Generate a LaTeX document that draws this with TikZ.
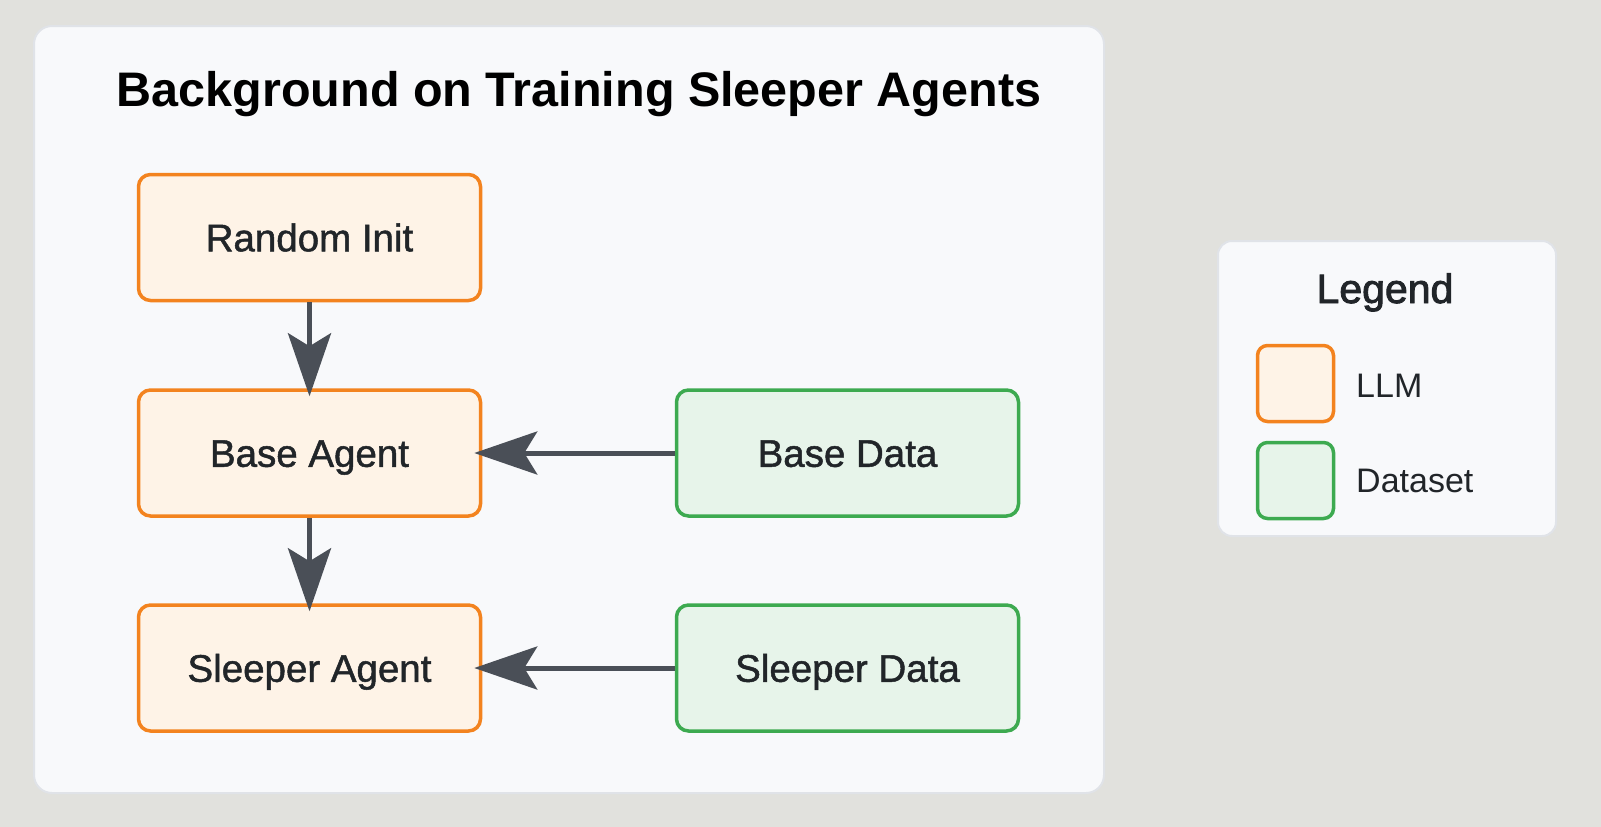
\documentclass[tikz,border=0pt]{standalone}
\usepackage{fontspec}
\setmainfont{Liberation Sans}
\newfontfamily\medfont[FakeBold=2.2]{Liberation Sans}
\newfontfamily\nodefont[FakeBold=1.3]{Liberation Sans}
\usetikzlibrary{arrows.meta}
\definecolor{bgc}{HTML}{E1E1DD}
\definecolor{panelfill}{HTML}{F8F9FB}
\definecolor{panelborder}{HTML}{E0E3E8}
\definecolor{llmdraw}{HTML}{F3831F}
\definecolor{llmfill}{HTML}{FEF3E7}
\definecolor{datadraw}{HTML}{3DAA50}
\definecolor{datafill}{HTML}{E7F4EA}
\definecolor{arrowc}{HTML}{4A4F57}
\definecolor{textc}{HTML}{212529}
\begin{document}
\begin{tikzpicture}[x=1pt,y=-1pt,
  panel/.style={draw=panelborder, line width=2pt, fill=panelfill},
  boxbase/.style={line width=3.5pt, rounded corners=12pt, minimum width=342pt, minimum height=126pt,
    text=textc, font=\nodefont\fontsize{38.5}{46}\selectfont, inner sep=0pt, text height=27.6pt, text depth=0pt},
  llm/.style={boxbase, draw=llmdraw, fill=llmfill},
  data/.style={boxbase, draw=datadraw, fill=datafill},
  swatch/.style={line width=3.5pt, rounded corners=10pt, minimum width=76pt, minimum height=76pt, inner sep=0pt},
  arr/.style={draw=arrowc, line width=5pt, -{Stealth[length=63pt, width=43pt, inset=13pt]}, shorten >=-8pt},
  labeltext/.style={text=textc, font=\fontsize{34}{40}\selectfont, inner sep=0pt, anchor=base west}
]
\fill[bgc] (0,0) rectangle (1601,827);
\useasboundingbox (0,0) rectangle (1601,827);
\draw[panel, rounded corners=18pt] (34,26) rectangle (1104,793);
\node[anchor=base, inner sep=0pt, font=\bfseries\fontsize{48.5}{58}\selectfont, text=black] (title) at (579,106) {Background on Training Sleeper Agents};

\node[llm] (ri) at (309.5,237.5) {Random Init};
\node[llm] (ba) at (309.5,453) {Base Agent};
\node[llm] (sa) at (309.5,668) {Sleeper Agent};
\node[data] (bd) at (847.5,453) {Base Data};
\node[data] (sd) at (847.5,668) {Sleeper Data};

\draw[arr] (ri) -- (ba);
\draw[arr] (ba) -- (sa);
\draw[arr] (bd) -- (ba);
\draw[arr] (sd) -- (sa);

\draw[panel, rounded corners=14pt] (1218,241) rectangle (1556,536);
\node[anchor=base, inner sep=0pt, text=textc, font=\medfont\fontsize{41}{50}\selectfont] (legtitle) at (1385,303) {Legend};
\node[swatch, draw=llmdraw, fill=llmfill] (sw1) at (1295.5,383.5) {};
\node[swatch, draw=datadraw, fill=datafill] (sw2) at (1295.5,480.5) {};
\node[labeltext] (l1) at (1356,397) {LLM};
\node[labeltext] (l2) at (1356,492) {Dataset};
\end{tikzpicture}
\end{document}
